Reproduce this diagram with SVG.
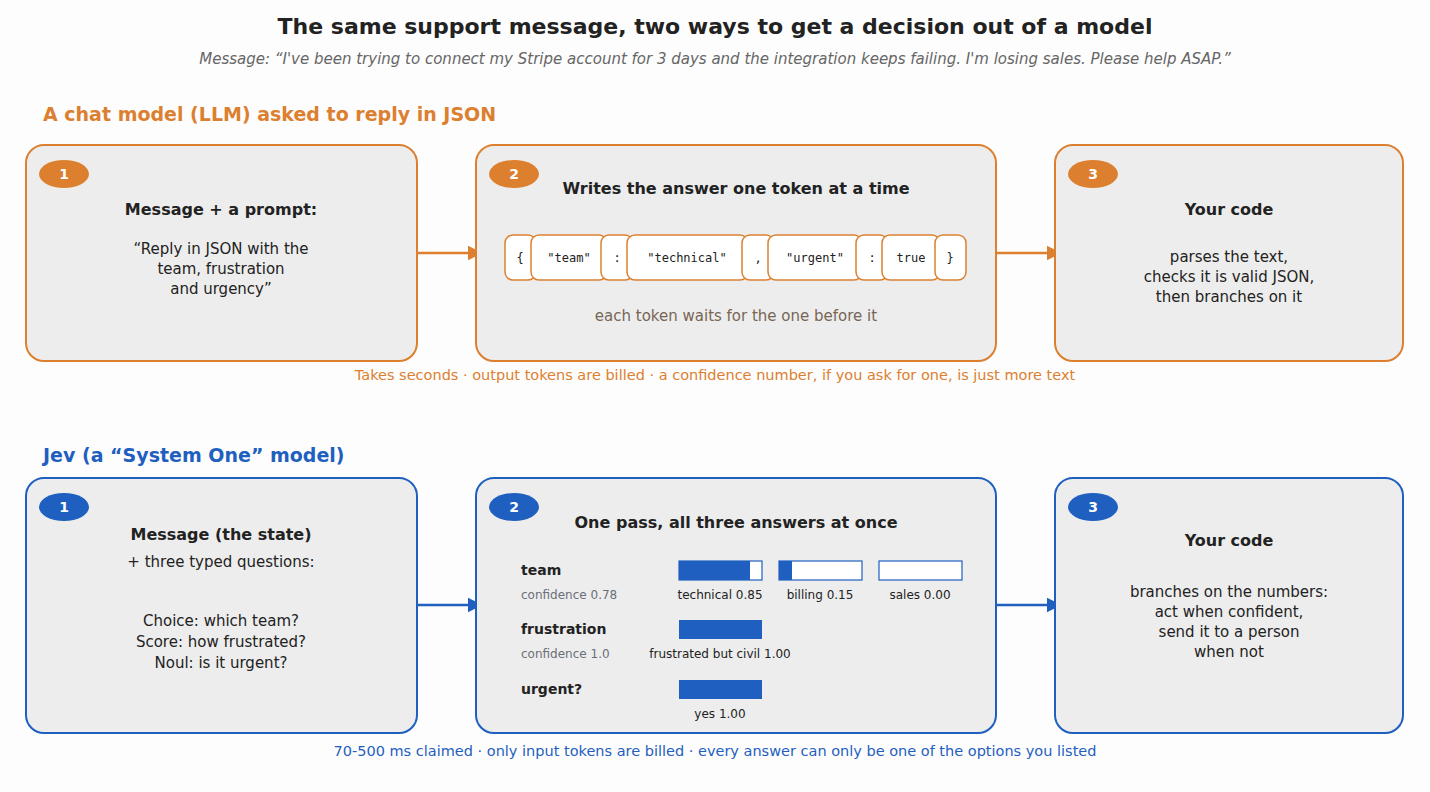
<svg xmlns="http://www.w3.org/2000/svg" width="1430" height="792" viewBox="0 0 1430 792">
<defs>
<style>
text{font-family:"DejaVu Sans","Liberation Sans",sans-serif}
.o{fill:#ededed;stroke:#dc8030;stroke-width:2}
.b{fill:#ededed;stroke:#1f5fbf;stroke-width:2}
.tk{fill:#fff;stroke:#dc8030;stroke-width:1.5}
.tt{font-family:"DejaVu Sans Mono",monospace;font-size:12px;fill:#222;text-anchor:middle}
.h{font-size:16px;font-weight:bold;fill:#222;text-anchor:middle}
.p{font-size:15px;fill:#222;text-anchor:middle}
.n{font-size:14px;font-weight:bold;fill:#fff;text-anchor:middle}
.lb{font-size:14px;font-weight:bold;fill:#222}
.cf{font-size:12px;fill:#6a7078}
.bl{font-size:12px;fill:#222;text-anchor:middle}
.bar{fill:#fff;stroke:#1f5fbf;stroke-width:1.2}
.fill{fill:#1f5fbf}
</style>
<marker id="ao" viewBox="0 0 10 10" refX="9" refY="5" markerWidth="6" markerHeight="6" orient="auto"><path d="M0,0L10,5L0,10z" fill="#dc8030"/></marker>
<marker id="ab" viewBox="0 0 10 10" refX="9" refY="5" markerWidth="6" markerHeight="6" orient="auto"><path d="M0,0L10,5L0,10z" fill="#1f5fbf"/></marker>
</defs>
<rect width="1430" height="792" fill="#fdfdfd"/>
<text x="715" y="34" font-size="22" font-weight="bold" fill="#222" text-anchor="middle">The same support message, two ways to get a decision out of a model</text>
<text x="715" y="64" font-size="15" font-style="italic" fill="#666" text-anchor="middle">Message: “I've been trying to connect my Stripe account for 3 days and the integration keeps failing. I'm losing sales. Please help ASAP.”</text>
<text x="43" y="121" font-size="19" font-weight="bold" fill="#dc8030">A chat model (LLM) asked to reply in JSON</text>
<text x="43" y="462" font-size="19" font-weight="bold" fill="#1f5fbf">Jev (a “System One” model)</text>

<g id="connectors">
<line x1="410" y1="253" x2="481" y2="253" stroke="#dc8030" stroke-width="2.5" marker-end="url(#ao)"/>
<line x1="989" y1="253" x2="1060" y2="253" stroke="#dc8030" stroke-width="2.5" marker-end="url(#ao)"/>
<line x1="410" y1="605" x2="481" y2="605" stroke="#1f5fbf" stroke-width="2.5" marker-end="url(#ab)"/>
<line x1="989" y1="605" x2="1060" y2="605" stroke="#1f5fbf" stroke-width="2.5" marker-end="url(#ab)"/>
</g>

<g id="llm1">
<rect class="o" x="26" y="145" width="391" height="216" rx="18"/>
<ellipse cx="64" cy="174" rx="25" ry="14" fill="#dc8030"/><text class="n" x="64" y="179">1</text>
<text class="h" x="221" y="215">Message + a prompt:</text>
<text class="p" x="221" y="254">“Reply in JSON with the</text>
<text class="p" x="221" y="274">team, frustration</text>
<text class="p" x="221" y="294">and urgency”</text>
</g>
<g id="llm2">
<rect class="o" x="476" y="145" width="520" height="216" rx="18"/>
<ellipse cx="514" cy="174" rx="25" ry="14" fill="#dc8030"/><text class="n" x="514" y="179">2</text>
<text class="h" x="736" y="194">Writes the answer one token at a time</text>
<rect class="tk" x="505" y="235" width="31" height="45" rx="8"/><text class="tt" x="520" y="262">{</text>
<rect class="tk" x="531" y="235" width="76" height="45" rx="8"/><text class="tt" x="569" y="262">"team"</text>
<rect class="tk" x="601" y="235" width="32" height="45" rx="8"/><text class="tt" x="617" y="262">:</text>
<rect class="tk" x="627" y="235" width="121" height="45" rx="8"/><text class="tt" x="687" y="262">"technical"</text>
<rect class="tk" x="742" y="235" width="32" height="45" rx="8"/><text class="tt" x="758" y="262">,</text>
<rect class="tk" x="768" y="235" width="94" height="45" rx="8"/><text class="tt" x="815" y="262">"urgent"</text>
<rect class="tk" x="856" y="235" width="32" height="45" rx="8"/><text class="tt" x="872" y="262">:</text>
<rect class="tk" x="882" y="235" width="58" height="45" rx="8"/><text class="tt" x="911" y="262">true</text>
<rect class="tk" x="935" y="235" width="31" height="45" rx="8"/><text class="tt" x="950" y="262">}</text>
<text x="736" y="321" font-size="15" fill="#776655" text-anchor="middle">each token waits for the one before it</text>
</g>
<g id="llm3">
<rect class="o" x="1055" y="145" width="348" height="216" rx="18"/>
<ellipse cx="1093" cy="174" rx="25" ry="14" fill="#dc8030"/><text class="n" x="1093" y="179">3</text>
<text class="h" x="1229" y="215">Your code</text>
<text class="p" x="1229" y="262">parses the text,</text>
<text class="p" x="1229" y="282">checks it is valid JSON,</text>
<text class="p" x="1229" y="302">then branches on it</text>
</g>
<text x="715" y="380" font-size="14.5" fill="#dc8030" text-anchor="middle">Takes seconds  ·  output tokens are billed  ·  a confidence number, if you ask for one, is just more text</text>

<g id="jev1">
<rect class="b" x="26" y="478" width="391" height="255" rx="18"/>
<ellipse cx="64" cy="507" rx="25" ry="14" fill="#1f5fbf"/><text class="n" x="64" y="512">1</text>
<text class="h" x="221" y="540">Message (the state)</text>
<text class="p" x="221" y="567">+ three typed questions:</text>
<text class="p" x="221" y="626">Choice: which team?</text>
<text class="p" x="221" y="647">Score: how frustrated?</text>
<text class="p" x="221" y="668">Noul: is it urgent?</text>
</g>
<g id="jev2">
<rect class="b" x="476" y="478" width="520" height="255" rx="18"/>
<ellipse cx="514" cy="507" rx="25" ry="14" fill="#1f5fbf"/><text class="n" x="514" y="512">2</text>
<text class="h" x="736" y="528">One pass, all three answers at once</text>
<text class="lb" x="521" y="575">team</text>
<text class="cf" x="521" y="599">confidence 0.78</text>
<rect class="bar" x="679" y="561" width="83" height="19"/><rect class="fill" x="679" y="561" width="71" height="19"/>
<rect class="bar" x="779" y="561" width="83" height="19"/><rect class="fill" x="779" y="561" width="13" height="19"/>
<rect class="bar" x="879" y="561" width="83" height="19"/>
<text class="bl" x="720" y="599">technical 0.85</text>
<text class="bl" x="820" y="599">billing 0.15</text>
<text class="bl" x="920" y="599">sales 0.00</text>
<text class="lb" x="521" y="634">frustration</text>
<text class="cf" x="521" y="658">confidence 1.0</text>
<rect class="fill" x="679" y="620" width="83" height="19"/>
<text class="bl" x="720" y="658">frustrated but civil 1.00</text>
<text class="lb" x="521" y="694">urgent?</text>
<rect class="fill" x="679" y="680" width="83" height="19"/>
<text class="bl" x="720" y="718">yes 1.00</text>
</g>
<g id="jev3">
<rect class="b" x="1055" y="478" width="348" height="255" rx="18"/>
<ellipse cx="1093" cy="507" rx="25" ry="14" fill="#1f5fbf"/><text class="n" x="1093" y="512">3</text>
<text class="h" x="1229" y="546">Your code</text>
<text class="p" x="1229" y="597">branches on the numbers:</text>
<text class="p" x="1229" y="617">act when confident,</text>
<text class="p" x="1229" y="637">send it to a person</text>
<text class="p" x="1229" y="657">when not</text>
</g>
<text x="715" y="756" font-size="14.5" fill="#1f5fbf" text-anchor="middle">70-500 ms claimed  ·  only input tokens are billed  ·  every answer can only be one of the options you listed</text>
</svg>
